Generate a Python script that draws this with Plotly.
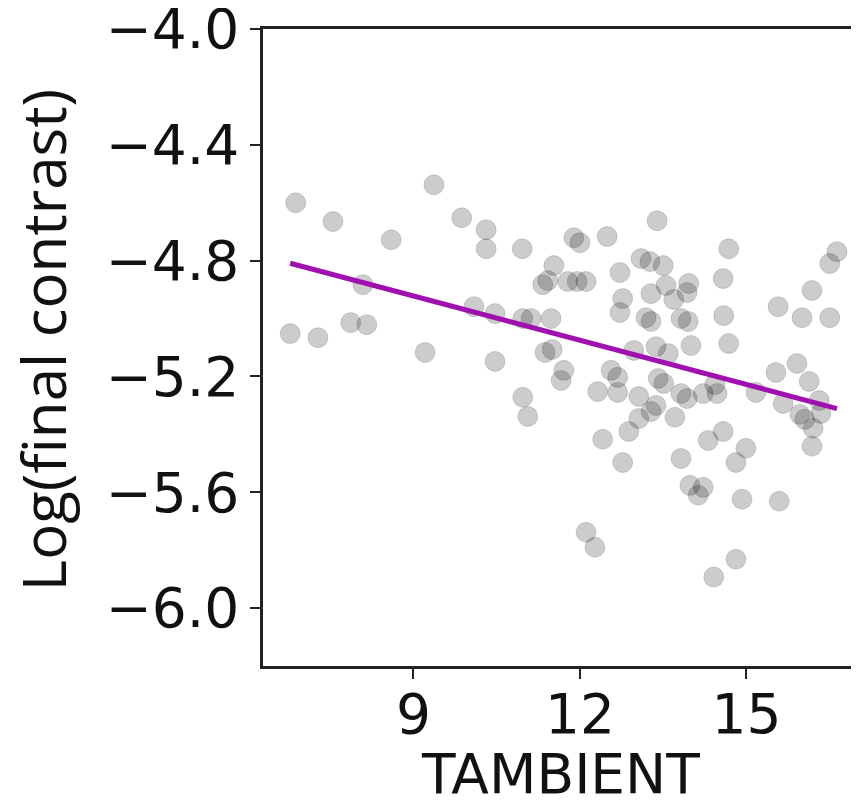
import plotly.graph_objects as go

# Scatter data: TAMBIENT vs Log(final contrast)
tambient = [
    6.88, 7.55, 8.60, 9.37, 9.87, 8.09, 6.78, 7.28, 7.87, 8.16,
    9.21, 10.31, 10.31, 10.96, 10.09, 10.47, 10.47, 10.97, 11.12, 11.48,
    11.53, 11.33, 11.42, 11.78, 11.95, 12.11, 11.89, 12.00, 12.49, 13.39,
    14.68, 16.63, 16.50, 12.72, 13.10, 13.26, 13.50, 13.55, 13.28, 13.96,
    13.93, 13.69, 14.58, 12.77, 12.72, 13.19, 13.28, 13.82, 13.95, 14.59,
    14.68, 15.57, 16.18, 16.00, 16.50, 11.37, 11.50, 11.71, 11.66, 12.32,
    12.56, 12.68, 12.68, 12.97, 13.37, 13.59, 14.00, 13.06, 13.28, 13.37,
    13.41, 13.51, 13.82, 13.93, 13.71, 14.22, 14.43, 14.47, 15.17, 15.53,
    15.91, 16.13, 16.31, 15.66, 15.96, 16.05, 16.34, 16.20, 16.18, 14.99,
    12.41, 12.88, 13.06, 14.58, 14.31, 14.81, 12.77, 13.82, 13.98, 14.22,
    14.13, 14.92, 15.59, 12.11, 12.27, 14.81, 14.41, 10.97, 11.06,
]
log_contrast = [
    -4.600, -4.665, -4.728, -4.538, -4.652, -4.883, -5.052, -5.066, -5.014, -5.021,
    -5.117, -4.693, -4.759, -4.759, -4.959, -4.983, -5.148, -5.000, -5.000, -5.000,
    -4.817, -4.883, -4.869, -4.872, -4.872, -4.872, -4.721, -4.738, -4.717, -4.662,
    -4.759, -4.769, -4.810, -4.841, -4.793, -4.803, -4.817, -4.886, -4.914, -4.879,
    -4.910, -4.934, -4.862, -4.931, -4.979, -4.997, -5.010, -5.000, -5.010, -4.990,
    -5.086, -4.959, -4.903, -4.997, -4.997, -5.117, -5.107, -5.179, -5.214, -5.252,
    -5.179, -5.203, -5.255, -5.110, -5.097, -5.121, -5.093, -5.269, -5.321, -5.300,
    -5.207, -5.224, -5.259, -5.276, -5.341, -5.259, -5.228, -5.259, -5.255, -5.186,
    -5.155, -5.217, -5.283, -5.293, -5.331, -5.348, -5.328, -5.379, -5.441, -5.448,
    -5.417, -5.390, -5.345, -5.390, -5.421, -5.497, -5.497, -5.483, -5.576, -5.583,
    -5.610, -5.624, -5.631, -5.738, -5.790, -5.831, -5.893, -5.272, -5.338,
]

# Regression line endpoints
fit_x = [6.78, 16.63]
fit_y = [-4.809, -5.311]

x_ticks = [9, 12, 15]
x_tick_labels = ["9", "12", "15"]
y_ticks = [-6.0, -5.6, -5.2, -4.8, -4.4, -4.0]
y_tick_labels = ["\u22126.0", "\u22125.6", "\u22125.2", "\u22124.8", "\u22124.4", "\u22124.0"]

tick_font = dict(family="DejaVu Sans", size=55, color="#111")

fig = go.Figure()
fig.add_trace(go.Scatter(
    x=tambient, y=log_contrast, mode="markers",
    marker=dict(size=20, color="rgba(0,0,0,0.2)",
                line=dict(color="rgba(0,0,0,0.14)", width=1)),
    showlegend=False, hoverinfo="skip",
))
fig.add_trace(go.Scatter(
    x=fit_x, y=fit_y, mode="lines",
    line=dict(color="#a010b0", width=5),
    showlegend=False, hoverinfo="skip",
))

fig.update_layout(
    width=852, height=794,
    margin=dict(l=255, r=0, t=21, b=136, autoexpand=False),
    plot_bgcolor="white", paper_bgcolor="white",
    xaxis=dict(
        range=[6.29, 17.045], tickvals=x_ticks, ticktext=x_tick_labels,
        showgrid=False, zeroline=False, showline=True, linecolor="#222",
        linewidth=2.5, mirror=True, ticks="outside", ticklen=10, tickwidth=2,
        tickcolor="#222", tickfont=tick_font, ticklabelstandoff=-12,
        ticklabeloverflow="allow", automargin=False,
    ),
    yaxis=dict(
        range=[-6.2, -4.0], tickvals=y_ticks, ticktext=y_tick_labels,
        showgrid=False, zeroline=False, showline=True, linecolor="#222",
        linewidth=2.5, mirror=False, ticks="outside", ticklen=10, tickwidth=2,
        tickcolor="#222", tickfont=tick_font, ticklabeloverflow="allow",
        automargin=False,
    ),
    annotations=[
        dict(text="TAMBIENT", xref="paper", yref="paper", x=0.499, y=-0.17,
             xanchor="center", yanchor="middle", showarrow=False,
             font=dict(family="DejaVu Sans", size=55, color="#111")),
        dict(text="Log(f\u200cinal contrast)", xref="paper", yref="paper", x=-0.368, y=0.512,
             xanchor="center", yanchor="middle", showarrow=False, textangle=-90,
             font=dict(family="Open Sans", size=60, color="#111")),
    ],
)

fig.write_html("out.html")
